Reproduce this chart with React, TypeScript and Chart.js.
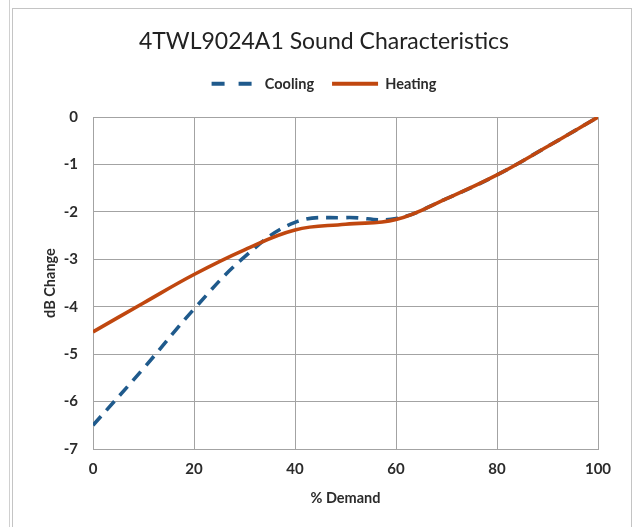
import React, { useEffect, useRef } from "react";
import { Chart, registerables } from "chart.js";

Chart.register(...registerables);

const demand = [0, 10, 20, 30, 40, 50, 60, 70, 80, 90, 100];
const cooling = [-6.5, -5.3, -4.05, -2.95, -2.22, -2.12, -2.14, -1.72, -1.22, -0.62, 0];
const heating = [-4.53, -3.92, -3.32, -2.8, -2.38, -2.26, -2.16, -1.72, -1.22, -0.62, 0];
const xTicks = [0, 20, 40, 60, 80, 100];
const yTicks = [0, -1, -2, -3, -4, -5, -6, -7];

const FONT = "Lato, 'Open Sans', sans-serif";
const GRID = "#a3a3a3";
const TEXT = "#2b2b2b";

export default function App() {
  const ref = useRef<HTMLCanvasElement | null>(null);

  useEffect(() => {
    if (!ref.current) return;
    const legendSpacer = {
      id: "legendSpacer",
      beforeInit(chart: any) {
        const legend = chart.legend;
        if (!legend) return;
        const orig = legend.fit;
        legend.fit = function () {
          orig.bind(legend)();
          this.height += 16;
        };
      },
    };
    const defaultGen = (Chart as any).defaults.plugins.legend.labels.generateLabels;
    const chart = new Chart(ref.current, {
      type: "line",
      data: {
        datasets: [
          {
            label: "Cooling",
            data: demand.map((x, i) => ({ x, y: cooling[i] })),
            borderColor: "#1f5a8c",
            backgroundColor: "#1f5a8c",
            borderWidth: 3.6,
            borderDash: [12, 8],
            pointRadius: 0,
            tension: 0.4,
            order: 2,
          },
          {
            label: "Heating",
            data: demand.map((x, i) => ({ x, y: heating[i] })),
            borderColor: "#c0470f",
            backgroundColor: "#c0470f",
            borderWidth: 3.6,
            pointRadius: 0,
            tension: 0.4,
            order: 1,
          },
        ],
      },
      options: {
        responsive: false,
        animation: false,
        maintainAspectRatio: false,
        layout: { padding: { left: 50, right: 38, top: 0, bottom: 0 } },
        plugins: {
          tooltip: { enabled: false },
          title: {
            display: true,
            text: "4TWL9024A1 Sound Characteristics",
            color: "#222",
            font: { family: FONT, size: 23, weight: "normal" },
            padding: { top: 28, bottom: 3 },
          },
          legend: {
            display: true,
            labels: {
              usePointStyle: true,
              pointStyle: "line",
              pointStyleWidth: 46,
              boxWidth: 46,
              boxHeight: 14,
              color: TEXT,
              font: { family: FONT, size: 14.5, weight: "bold" },
              padding: 18,
              sort: (a: any, b: any) => a.datasetIndex - b.datasetIndex,
              generateLabels: (c: any) =>
                defaultGen(c).map((item: any) => {
                  const ds = c.data.datasets[item.datasetIndex];
                  return {
                    ...item,
                    strokeStyle: ds.borderColor,
                    fillStyle: ds.borderColor,
                    lineWidth: 4,
                    lineDash: ds.borderDash ? [13, 14] : [],
                    lineCap: "butt",
                    pointStyle: "line",
                  };
                }),
            },
          },
        },
        scales: {
          x: {
            type: "linear",
            min: 0,
            max: 100,
            afterBuildTicks: (s: any) => {
              s.ticks = xTicks.map((v) => ({ value: v }));
            },
            afterFit: (s: any) => {
              s.height = 78;
            },
            grid: { color: GRID, drawTicks: false, lineWidth: 1 },
            border: { color: GRID },
            ticks: {
              color: TEXT,
              padding: 11,
              font: { family: FONT, size: 15, weight: "bold" },
            },
            title: {
              display: true,
              text: "% Demand",
              color: TEXT,
              font: { family: FONT, size: 14.5, weight: "bold" },
              padding: { top: 0, bottom: 20 },
            },
          },
          y: {
            type: "linear",
            min: -7,
            max: 0,
            afterBuildTicks: (s: any) => {
              s.ticks = yTicks.map((v) => ({ value: v }));
            },
            afterFit: (s: any) => {
              s.width = 43;
            },
            grid: { color: GRID, drawTicks: false, lineWidth: 1 },
            border: { color: GRID },
            ticks: {
              color: TEXT,
              padding: 15,
              font: { family: FONT, size: 15, weight: "bold" },
            },
            title: {
              display: true,
              text: "dB Change",
              color: TEXT,
              font: { family: FONT, size: 14.5, weight: "bold" },
              padding: { top: -8.7, bottom: 0 },
            },
          },
        },
      },
      plugins: [legendSpacer],
    } as any);
    return () => chart.destroy();
  }, []);

  return (
    <div style={{ position: "absolute", left: 0, top: 0, width: 636, height: 527, background: "#fff", overflow: "hidden" }}>
      <div style={{ position: "absolute", left: 9, top: 0, width: 0, height: 527, borderLeft: "1px solid #d0d0d0" }} />
      <div style={{ position: "absolute", left: 12, top: 8, width: 618, height: 540, border: "1px solid #c4c4c4" }} />
      <canvas ref={ref} width={636} height={527} style={{ position: "absolute", left: 0, top: 0 }} />
    </div>
  );
}
